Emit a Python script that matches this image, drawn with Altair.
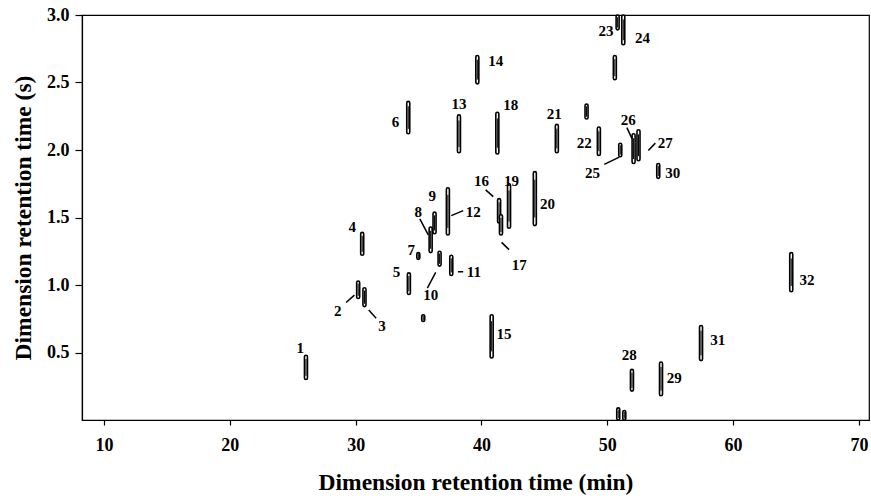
import altair as alt
import pandas as pd

# Peak table: first-dimension time (min), second-dimension extent (s)
peak_label = ["1", "2", "3", "4", "5", "6", "7", "8", "9", "10", "11", "12",
              "13", "14", "15", "16", "17", "18", "19", "20", "21", "22", "23",
              "24", "25", "26", "27", "28", "29", "30", "31", "32",
              "", "", "", "", ""]
peak_rt1 = [26.05, 30.2, 30.7, 30.52, 34.23, 34.18, 34.98, 35.96, 36.27, 36.67,
            37.6, 37.33, 38.21, 39.67, 40.81, 41.4, 41.55, 41.26, 42.19, 44.24,
            45.99, 49.33, 50.82, 51.27, 51.03, 52.09, 52.48, 51.96, 54.27, 54.05,
            57.45, 64.62,
            48.35, 50.6, 35.37, 50.87, 51.35]
peak_top = [0.48, 1.03, 0.98, 1.39, 1.09, 2.36, 1.24, 1.43, 1.54, 1.25,
            1.22, 1.72, 2.26, 2.70, 0.78, 1.64, 1.52, 2.28, 1.75, 1.84,
            2.19, 2.17, 3.0, 3.0, 2.05, 2.12, 2.15, 0.375, 0.43, 1.90,
            0.70, 1.24,
            2.34, 2.70, 0.78, 0.09, 0.07]
peak_bottom = [0.30, 0.90, 0.84, 1.22, 0.93, 2.12, 1.19, 1.24, 1.38, 1.14,
               1.07, 1.37, 1.98, 2.49, 0.46, 1.46, 1.37, 1.97, 1.42, 1.44,
               1.98, 1.96, 2.89, 2.78, 1.95, 1.90, 1.92, 0.214, 0.18, 1.79,
               0.44, 0.95,
               2.23, 2.52, 0.73, 0.0, 0.0]

# Peak number positions
label_text = [str(i) for i in range(1, 33)]
label_rt1 = [25.6, 28.58, 32.1, 29.72, 33.25, 33.17, 34.42, 34.98, 36.08, 35.96,
             39.4, 39.35, 38.21, 41.13, 41.79, 40.0, 43.0, 42.32, 42.38, 45.24,
             45.78, 48.17, 49.9, 52.8, 48.83, 51.67, 54.6, 51.75, 55.33, 55.2,
             58.78, 65.87]
label_rt2 = [0.53, 0.81, 0.70, 1.43, 1.10, 2.21, 1.26, 1.54, 1.66, 0.925,
             1.10, 1.54, 2.34, 2.66, 0.64, 1.77, 1.15, 2.33, 1.77, 1.60,
             2.27, 2.05, 2.88, 2.83, 1.83, 2.22, 2.05, 0.48, 0.31, 1.83,
             0.59, 1.04]

# Leader lines from numbers to their peaks
leader_x1 = [29.24, 31.04, 35.1, 35.7, 38.13, 37.6, 40.33, 41.6, 49.76, 51.56, 53.26]
leader_y1 = [0.87, 0.814, 1.49, 0.977, 1.098, 1.514, 1.705, 1.316, 1.893, 2.166, 1.997]
leader_x2 = [29.9, 31.63, 35.77, 36.36, 38.55, 38.55, 40.94, 42.19, 50.95, 51.96, 53.82]
leader_y2 = [0.925, 0.754, 1.371, 1.093, 1.098, 1.551, 1.655, 1.262, 1.947, 2.084, 2.051]

HALF_W = 0.12  # half-width of a peak contour, minutes

peaks = pd.DataFrame({"id": peak_label, "t": peak_rt1,
                      "top": peak_top, "bottom": peak_bottom})
peaks["x1"] = peaks["t"] - HALF_W
peaks["x2"] = peaks["t"] + HALF_W
span = peaks["top"] - peaks["bottom"]
peaks["core_top"] = peaks["top"] - 0.15 * span
peaks["core_bottom"] = peaks["bottom"] + 0.15 * span

labels = pd.DataFrame({"text": label_text, "t": label_rt1, "s": label_rt2})
leaders = pd.DataFrame({"x1": leader_x1, "y1": leader_y1,
                        "x2": leader_x2, "y2": leader_y2})

FONT = "Liberation Serif"

xs = alt.Scale(domain=[8.25, 70.8], nice=False, zero=False)
ys = alt.Scale(domain=[0.0, 3.0], nice=False, zero=False)

x_axis = alt.Axis(values=[10, 20, 30, 40, 50, 60, 70], grid=False,
                  title="Dimension retention time (min)",
                  tickSize=5, labelPadding=11, titlePadding=16)
y_axis = alt.Axis(values=[0.5, 1.0, 1.5, 2.0, 2.5, 3.0], format=".1f", grid=False,
                  title="Dimension retention time (s)",
                  tickSize=7, labelPadding=6, titlePadding=11)

# Outer contour of each peak
contour = alt.Chart(peaks).mark_rect(
    fill="white", stroke="black", strokeWidth=1.6, cornerRadius=2
).encode(
    x=alt.X("x1:Q", scale=xs, axis=x_axis),
    x2="x2:Q",
    y=alt.Y("top:Q", scale=ys, axis=y_axis),
    y2="bottom:Q",
)

# Inner contour (peak apex)
core = alt.Chart(peaks).mark_rule(color="black", strokeWidth=1.0).encode(
    x=alt.X("t:Q", scale=xs),
    y=alt.Y("core_top:Q", scale=ys),
    y2="core_bottom:Q",
)

leader = alt.Chart(leaders).mark_rule(color="black", strokeWidth=1.5).encode(
    x=alt.X("x1:Q", scale=xs),
    x2="x2:Q",
    y=alt.Y("y1:Q", scale=ys),
    y2="y2:Q",
)

numbers = alt.Chart(labels).mark_text(
    font=FONT, fontWeight="bold", fontSize=15, color="black",
    align="center", baseline="middle"
).encode(
    x=alt.X("t:Q", scale=xs),
    y=alt.Y("s:Q", scale=ys),
    text="text:N",
)

chart = alt.layer(contour, core, leader, numbers).properties(
    width=787, height=405,
    autosize=alt.AutoSizeParams(type="none"),
    padding={"left": 82, "top": 15, "right": 2, "bottom": 80},
).configure_view(
    stroke="black", strokeWidth=1.2
).configure_axis(
    labelFont=FONT, labelFontWeight="bold", labelFontSize=18, labelColor="black",
    titleFont=FONT, titleFontWeight="bold", titleFontSize=23.5, titleColor="black",
    domainColor="black", domainWidth=1.2, tickColor="black", tickWidth=1.2,
)

chart.save("out.html", embed_options={"renderer": "svg", "actions": False})
